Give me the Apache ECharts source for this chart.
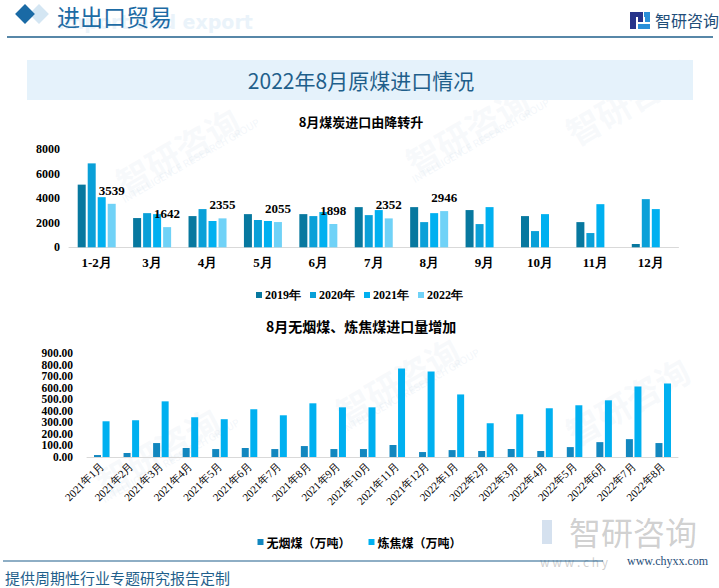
<!DOCTYPE html>
<html><head><meta charset="utf-8">
<script src="https://cdn.jsdelivr.net/npm/echarts@6/dist/echarts.min.js"></script>
<style>html,body{margin:0;padding:0;background:#fff}#c{width:719px;height:588px}</style>
</head><body><div id="c"></div>
<script>
const months = ['1-2月','3月','4月','5月','6月','7月','8月','9月','10月','11月','12月'];
const y2019 = [5100,2380,2540,2700,2700,3270,3270,3030,2540,2050,270];
const y2020 = [6830,2780,3110,2220,2540,2620,2050,1890,1320,1160,3920];
const y2021 = [4080,2700,2140,2140,2870,3030,2780,3270,2700,3510,3110];
const y2022 = [3539,1642,2355,2055,1898,2352,2946,null,null,null,null];
const topTicks = [0,2000,4000,6000,8000];

const periods = ['2021年1月','2021年2月','2021年3月','2021年4月','2021年5月','2021年6月','2021年7月','2021年8月','2021年9月','2021年10月','2021年11月','2021年12月','2022年1月','2022年2月','2022年3月','2022年4月','2022年5月','2022年6月','2022年7月','2022年8月'];
const anthracite = [17,35,121,78,69,78,69,95,69,69,104,43,60,52,69,52,86,129,155,121];
const coking = [310,319,483,345,328,414,362,466,431,431,768,742,543,293,371,423,449,492,612,638];
const bottomTicks = [0,100,200,300,400,500,600,700,800,900];

const serif = '"Liberation Serif","DejaVu Serif",serif';
const cjk = '"Noto Sans CJK SC","Noto Sans",sans-serif';
const chart = echarts.init(document.getElementById('c'), null, {renderer:'svg'});

function wm(x,y){
  return {type:'text', x:x, y:y, rotation:Math.PI/6, silent:true, z:-10,
    style:{text:'智研咨询', font:'bold 34px '+cjk, fill:'rgba(205,220,234,0.16)'}};
}
function wm2(x,y){
  return {type:'text', x:x, y:y, rotation:Math.PI/6, silent:true, z:-10,
    style:{text:'INTELLIGENCE RESEARCH GROUP', font:'10px '+cjk, fill:'rgba(205,220,234,0.25)'}};
}

const graphics = [
  wm(110,170), wm2(120,195), wm(400,150), wm2(410,175), wm(330,400), wm2(340,425),
  wm(90,470), wm2(100,495), wm(560,120), wm(560,420),
  {type:'text', x:58, y:22, silent:true, style:{text:'import and export', font:'bold 19px "DejaVu Sans",sans-serif', fill:'#eaf3fa', verticalAlign:'middle'}},
  {type:'rect', shape:{x:32,y:7,width:14,height:14}, rotation:Math.PI/4, originX:39, originY:14, style:{fill:'#d4e6f3'}},
  {type:'rect', shape:{x:18,y:7,width:14,height:14}, rotation:Math.PI/4, originX:25, originY:14, style:{fill:'#1a6aa5'}},
  {type:'text', x:57, y:16, style:{text:'进出口贸易', font:'23px '+cjk, fill:'#1d6ba4', verticalAlign:'middle'}},
  {type:'line', shape:{x1:7,y1:37,x2:713,y2:37}, style:{stroke:'#1f5f8b', lineWidth:1.5}},
  {type:'rect', shape:{x:630,y:12,width:6,height:17}, style:{fill:'#27348b'}},
  {type:'rect', shape:{x:636,y:12,width:7,height:5}, style:{fill:'#27348b'}},
  {type:'rect', shape:{x:638,y:17,width:5,height:5}, style:{fill:'#27348b'}},
  {type:'rect', shape:{x:644,y:12,width:6,height:5}, style:{fill:'#2a8fd8'}},
  {type:'rect', shape:{x:645,y:17,width:5,height:5}, style:{fill:'#2a8fd8'}},
  {type:'rect', shape:{x:638,y:24,width:12,height:5}, style:{fill:'#2a8fd8'}},
  {type:'text', x:655, y:20, style:{text:'智研咨询', font:'16px '+cjk, fill:'#1f4e79', verticalAlign:'middle'}},
  {type:'rect', shape:{x:27,y:60,width:666,height:40}, style:{fill:'#e5f2fb'}},
  {type:'text', x:361, y:80, style:{text:'2022年8月原煤进口情况', font:'21px '+cjk, fill:'#1f5f8b', align:'center', verticalAlign:'middle'}},
  {type:'text', x:361, y:121, style:{text:'8月煤炭进口由降转升', font:'bold 13px '+cjk, fill:'#000', align:'center', verticalAlign:'middle'}},
  {type:'text', x:361, y:326, style:{text:'8月无烟煤、炼焦煤进口量增加', font:'bold 14px '+cjk, fill:'#000', align:'center', verticalAlign:'middle'}},
  {type:'text', x:633, y:531, silent:true, style:{text:'智研咨询', font:'32px '+cjk, fill:'rgba(150,150,150,0.45)', align:'center', verticalAlign:'middle'}},
  {type:'rect', shape:{x:542,y:520,width:10,height:24}, style:{fill:'rgba(150,180,215,0.4)'}},
  {type:'text', x:540, y:561, silent:true, style:{text:'w w w . c h y', font:'12px '+cjk, fill:'rgba(160,160,160,0.5)', verticalAlign:'middle'}},
  {type:'line', shape:{x1:3,y1:561,x2:603,y2:561}, style:{stroke:'#1f5f8b', lineWidth:1.2}},
  {type:'text', x:627, y:561, style:{text:'www.chyxx.com', font:'12px '+serif, fill:'#1f4e79', verticalAlign:'middle'}},
  {type:'text', x:5, y:577, style:{text:'提供周期性行业专题研究报告定制', font:'15px '+cjk, fill:'#1f5f8b', verticalAlign:'middle'}}
];

const c2019='#07789f', c2020='#0aa0d8', c2021='#00b0f0', c2022='#70d2f7';
const cA='#1287bf', cC='#00b0f0';

const bottomLabelStyle = {fontFamily:serif, fontWeight:'bold', fontSize:11.5, color:'#000', margin:14,
  hideOverlap:false, formatter:v=>Number(v).toFixed(2)};
function bottomY(values){
  return {type:'value', gridIndex:1, position:'left', min:bottomTicks[0], max:bottomTicks[bottomTicks.length-1], interval:100,
    splitLine:{show:false}, axisLine:{show:false}, axisTick:{show:false},
    axisLabel:Object.assign({customValues:values}, bottomLabelStyle)};
}

chart.setOption({
  animation:false,
  backgroundColor:'#fff',
  graphic:graphics,
  grid:[
    {left:69, right:40.5, top:149, height:98.3},
    {left:87, right:41, top:353.3, height:103.7}
  ],
  legend:[
    {data:['2019年','2020年','2021年','2022年'], left:'center', top:284, icon:'rect', itemWidth:6, itemHeight:6, itemGap:9,
     textStyle:{fontFamily:serif, fontWeight:'bold', fontSize:12, color:'#000', padding:[0,0,0,-2]}},
    {data:['无烟煤（万吨）','炼焦煤（万吨）'], left:'center', top:531, icon:'rect', itemWidth:6, itemHeight:6, itemGap:18,
     textStyle:{fontFamily:cjk, fontWeight:'bold', fontSize:12, color:'#000', padding:[0,0,0,-2]}}
  ],
  xAxis:[
    {type:'category', gridIndex:0, data:months, axisTick:{show:false},
     axisLine:{lineStyle:{color:'#d9d9d9', width:1}},
     axisLabel:{fontFamily:serif, fontWeight:'bold', fontSize:13, color:'#000', margin:9}},
    {type:'category', gridIndex:1, data:periods, axisTick:{show:false},
     axisLine:{lineStyle:{color:'#d9d9d9', width:1}},
     axisLabel:{fontFamily:serif, fontSize:11, color:'#000', rotate:45, interval:0, margin:7}}
  ],
  yAxis:[
    {type:'value', gridIndex:0, min:topTicks[0], max:topTicks[topTicks.length-1], interval:2000,
     splitLine:{show:false}, axisLine:{show:false}, axisTick:{show:false},
     axisLabel:{fontFamily:serif, fontWeight:'bold', fontSize:12, color:'#000', margin:9,
       showMinLabel:true, showMaxLabel:true, hideOverlap:false, formatter:v=>String(v)}},
    bottomY(bottomTicks.filter((v,i)=>i%2===0)),
    bottomY(bottomTicks.filter((v,i)=>i%2===1))
  ],
  series:[
    {name:'2019年', type:'bar', xAxisIndex:0, yAxisIndex:0, data:y2019, barWidth:8, barGap:'25%', itemStyle:{color:c2019}},
    {name:'2020年', type:'bar', xAxisIndex:0, yAxisIndex:0, data:y2020, barWidth:8, barGap:'25%', itemStyle:{color:c2020}},
    {name:'2021年', type:'bar', xAxisIndex:0, yAxisIndex:0, data:y2021, barWidth:8, barGap:'25%', itemStyle:{color:c2021}},
    {name:'2022年', type:'bar', xAxisIndex:0, yAxisIndex:0, data:y2022, barWidth:8, barGap:'25%', itemStyle:{color:c2022},
     label:{show:true, position:'top', distance:7, fontFamily:serif, fontWeight:'bold', fontSize:13, color:'#000'}},
    {name:'无烟煤（万吨）', type:'bar', xAxisIndex:1, yAxisIndex:1, data:anthracite, barWidth:7, barGap:'22%', itemStyle:{color:cA}},
    {name:'炼焦煤（万吨）', type:'bar', xAxisIndex:1, yAxisIndex:1, data:coking, barWidth:7, barGap:'22%', itemStyle:{color:cC}}
  ]
});
</script></body></html>
